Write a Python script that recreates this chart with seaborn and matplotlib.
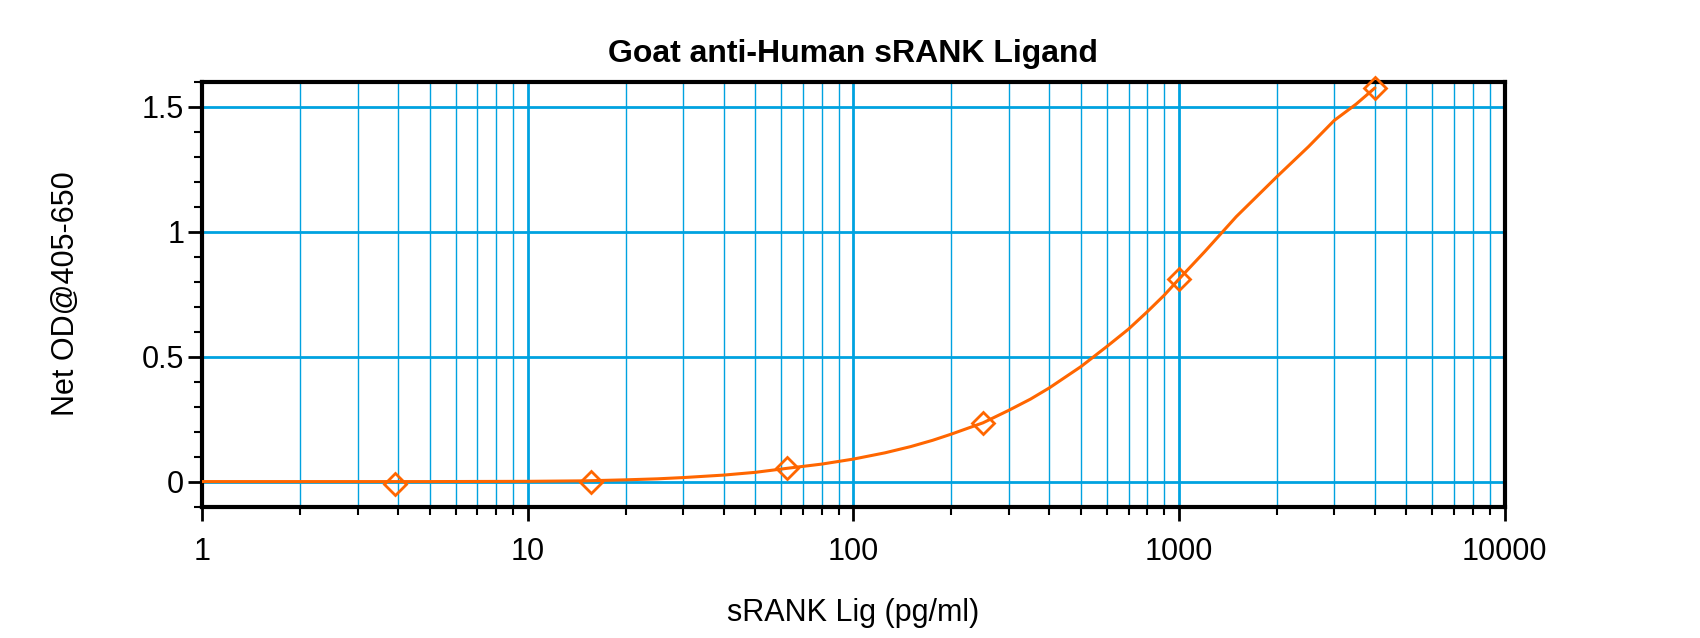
import numpy as np
import pandas as pd
import seaborn as sns
import matplotlib.pyplot as plt
from matplotlib.ticker import LogLocator, FixedLocator, MultipleLocator, NullFormatter

# standards (pg/ml) and measured net OD
conc = [3.9, 15.6, 62.5, 250, 1000, 4000]
od = [-0.01, 0.0, 0.055, 0.235, 0.81, 1.575]

# fitted curve
fit_x = [1, 2, 5, 10, 15, 20, 25, 30, 40, 50, 62.5, 80, 100, 125, 150, 175, 200,
         250, 300, 350, 400, 500, 600, 700, 800, 900, 1000, 1200, 1500, 2000,
         2500, 3000, 3500, 4000]
fit_y = [0.0, 0.0, 0.0, 0.001, 0.003, 0.007, 0.011, 0.016, 0.026, 0.037, 0.053,
         0.07, 0.09, 0.115, 0.14, 0.165, 0.19, 0.235, 0.285, 0.33, 0.375, 0.46,
         0.54, 0.61, 0.68, 0.745, 0.81, 0.92, 1.06, 1.22, 1.34, 1.445, 1.51, 1.575]

ORANGE = "#ff6600"
GRID = "#00a2e0"

sns.set_theme(style="white")
plt.rcParams["font.family"] = ["Liberation Sans", "DejaVu Sans"]
plt.rcParams.update({"text.color": "black", "axes.labelcolor": "black",
                     "xtick.color": "black", "ytick.color": "black"})

fig, ax = plt.subplots(figsize=(17, 6.38), dpi=100)
fig.subplots_adjust(left=0.119, right=0.885, top=0.872, bottom=0.206)

sns.lineplot(x=fit_x, y=fit_y, ax=ax, color=ORANGE, linewidth=2.2, zorder=3)
sns.lineplot(x=conc, y=od, ax=ax, marker="D", linestyle="", markersize=11,
             markerfacecolor="none", markeredgecolor=ORANGE, markeredgewidth=2,
             zorder=4, clip_on=False)

ax.set_xscale("log")
ax.set_xlim(1, 10000)
ax.set_ylim(-0.1, 1.6)

ax.xaxis.set_minor_locator(LogLocator(base=10, subs=np.arange(2, 10), numticks=20))
ax.xaxis.set_minor_formatter(NullFormatter())
ax.set_xticks([1, 10, 100, 1000, 10000])
ax.set_xticklabels(["1", "10", "100", "1000", "10000"])
ax.yaxis.set_major_locator(FixedLocator([0, 0.5, 1, 1.5]))
ax.set_yticklabels(["0", "0.5", "1", "1.5"])
ax.yaxis.set_minor_locator(MultipleLocator(0.1))

ax.grid(which="major", color=GRID, linewidth=2)
ax.grid(which="minor", axis="x", color=GRID, linewidth=1)
ax.set_axisbelow(True)

for s in ax.spines.values():
    s.set_visible(True)
    s.set_color("black")
    s.set_linewidth(3)

ax.tick_params(which="major", direction="out", length=10, width=2,
               labelsize=22, pad=3, bottom=True, left=True)
ax.tick_params(which="minor", direction="out", length=6, width=1.5,
               bottom=True, left=True)
ax.tick_params(axis="x", pad=12)

ax.set_title("Goat anti-Human sRANK Ligand", fontsize=23, fontweight="bold", pad=14)
ax.set_xlabel("sRANK Lig (pg/ml)", fontsize=22, labelpad=22)
ax.set_ylabel("Net OD@405-650", fontsize=22, labelpad=44)

fig.savefig("out.png", dpi=100)
